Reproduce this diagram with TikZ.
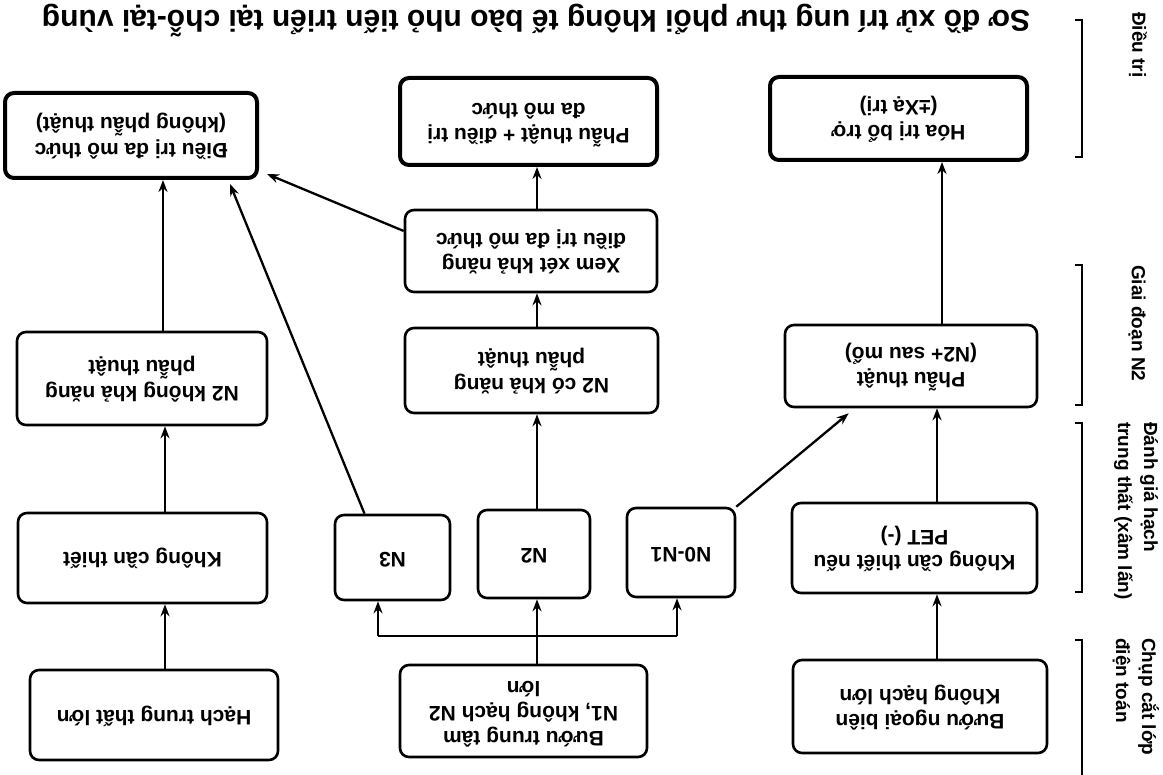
\documentclass[tikz,border=0pt]{standalone}
\usepackage{fontspec}
\setmainfont{Liberation Sans}
\usepackage{graphicx}
\usetikzlibrary{arrows.meta,calc}

% box text is printed upside down
\newcommand\fliptext[1]{\rotatebox[origin=c]{180}{\begin{tabular}{@{}c@{}}#1\end{tabular}}}

\tikzset{
  box/.style={draw, line width=2.6pt, rounded corners=9pt, inner sep=0pt,
    font=\bfseries\fontsize{21}{25}\selectfont},
  endbox/.style={box, line width=4pt},
  arr/.style={-{Stealth[length=12pt,width=9pt]}, line width=2.3pt},
  link/.style={line width=2.3pt},
  bracket/.style={line width=2.2pt},
  stage/.style={rotate=-90, anchor=west, align=left, inner sep=0pt,
    font=\bfseries\fontsize{19}{26}\selectfont},
  titletext/.style={rotate=180, inner sep=0pt, font=\bfseries\fontsize{30}{34}\selectfont}
}

\begin{document}
\begin{tikzpicture}[x=1pt,y=-1pt]
\useasboundingbox (0,0) rectangle (1163,775);

% caption
\node[titletext] (title) at (536,21) {Sơ đồ xử trí ung thư phổi không tế bào nhỏ tiến triển tại chỗ-tại vùng};

% treatment row
\node[endbox, minimum width=252pt, minimum height=85pt] (a1) at (131,135.5) {\fliptext{Điều trị đa mô thức\\(không phẫu thuật)}};
\node[endbox, minimum width=257pt, minimum height=87pt] (a2) at (528.5,121.5) {\fliptext{Phẫu thuật + điều trị\\đa mô thức}};
\node[endbox, minimum width=257pt, minimum height=83pt] (a3) at (898.5,118.5) {\fliptext{Hóa trị bổ trợ\\(±Xạ trị)}};

\node[box, minimum width=252pt, minimum height=82pt] (xm) at (531,251) {\fliptext{Xem xét khả năng\\điều trị đa mô thức}};

% N2 stage row
\node[box, minimum width=250pt, minimum height=93pt] (b1) at (142,378.5) {\fliptext{N2 không khả năng\\phẫu thuật}};
\node[box, minimum width=253pt, minimum height=85pt] (b2) at (531.5,370.5) {\fliptext{N2 có khả năng\\phẫu thuật}};
\node[box, minimum width=252pt, minimum height=82pt] (b3) at (911,366) {\fliptext{Phẫu thuật\\(N2+ sau mổ)}};

% mediastinal staging row
\node[box, minimum width=249pt, minimum height=90pt] (c1) at (142.5,558) {\fliptext{Không cần thiết}};
\node[box, minimum width=115pt, minimum height=85pt] (n3) at (392.5,557.5) {\fliptext{N3}};
\node[box, minimum width=112pt, minimum height=88pt] (n2) at (534,554) {\fliptext{N2}};
\node[box, minimum width=108pt, minimum height=89pt] (n01) at (681,552.5) {\fliptext{N0-N1}};
\node[box, minimum width=245pt, minimum height=90pt] (c3) at (914.5,548) {\fliptext{Không cần thiết nếu\\PET (-)}};

% CT row
\node[box, minimum width=248pt, minimum height=90pt] (d1) at (154,715) {\fliptext{Hạch trung thất lớn}};
\node[box, minimum width=247pt, minimum height=92pt] (d2) at (523.5,711) {\fliptext{Bướu trung tâm\\N1, không hạch N2\\lớn}};
\node[box, minimum width=254pt, minimum height=93pt] (d3) at (920,706.5) {\fliptext{Bướu ngoại biên\\Không hạch lớn}};

% column guides for the vertical connectors
\coordinate (colL) at (165,0);
\coordinate (colLt) at (163,0);
\coordinate (colM) at (537,0);
\coordinate (colR) at (937,0);
\coordinate (colRt) at (942,0);
\coordinate (forkL) at (378,636);
\coordinate (forkR) at (677,636);

% left column
\draw[arr] (d1.north -| colL) -- (c1.south -| colL);
\draw[arr] (c1.north -| colL) -- (b1.south -| colL);
\draw[arr] (b1.north -| colLt) -- (a1.south -| colLt);

% middle column
\draw[arr] (d2.north -| colM) -- (n2.south -| colM);
\draw[link] (forkL) -- (forkR);
\draw[arr] (forkL) -- (n3.south -| forkL);
\draw[arr] (forkR) -- (n01.south -| forkR);
\draw[arr] (n2.north -| colM) -- (b2.south -| colM);
\draw[arr] (b2.north -| colM) -- (xm.south -| colM);
\draw[arr] (xm.north -| colM) -- (a2.south -| colM);
\draw[arr] ($(n3.north)+(-28,0)$) -- ($(a1.south)+(99,4)$);
\draw[arr] ($(xm.west)+(0,-20)$) -- ($(a1.south east)+(8,-6)$);
\draw[arr] (n01.north east) -- ($(b3.south west)+(65,5)$);

% right column
\draw[arr] (d3.north -| colR) -- (c3.south -| colR);
\draw[arr] (c3.north -| colR) -- (b3.south -| colR);
\draw[arr] (b3.north -| colRt) -- (a3.south -| colRt);

% stage brackets and labels
\draw[bracket] (1075,20) -- (1082,20) -- (1082,157) -- (1075,157);
\draw[bracket] (1075,265) -- (1082,265) -- (1082,405) -- (1075,405);
\draw[bracket] (1075,423) -- (1082,423) -- (1082,592) -- (1075,592);
\draw[bracket] (1075,640) -- (1082,640) -- (1082,775);

\node[stage] (s1) at (1138,12) {Điều trị};
\node[stage] (s2) at (1137,265) {Giai đoạn N2};
\node[stage] (s3) at (1136,422) {Đánh giá hạch\\trung thất (xâm lấn)};
\node[stage] (s4) at (1136,638) {Chụp cắt lớp\\điện toán};
\end{tikzpicture}
\end{document}
